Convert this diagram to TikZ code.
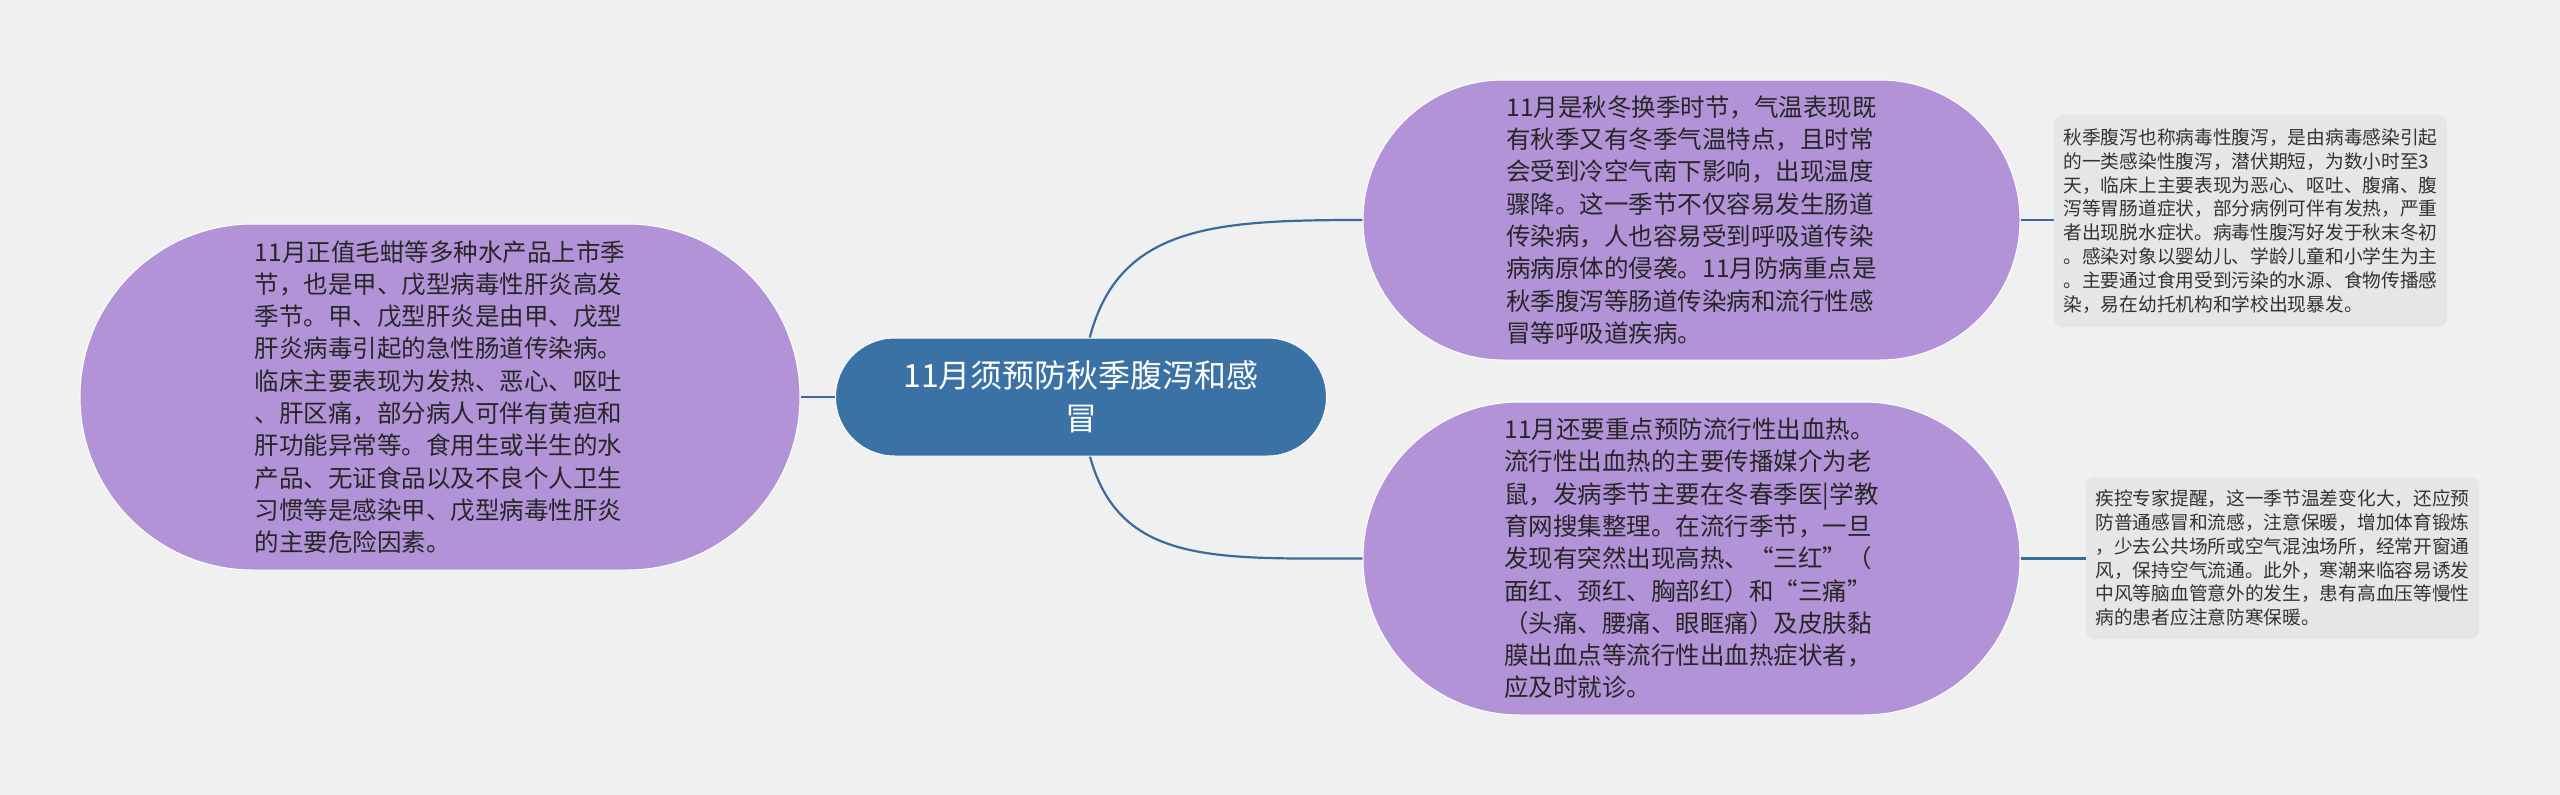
\documentclass[tikz,border=0pt]{standalone}
\usepackage{fontspec}
\setmainfont{Noto Sans CJK SC}
\usetikzlibrary{backgrounds}
\definecolor{bg}{HTML}{F0F0F0}
\definecolor{purp}{HTML}{B393D8}
\definecolor{cblue}{HTML}{3B72A6}
\definecolor{lnk}{HTML}{3A6B9C}
\definecolor{notebg}{HTML}{E6E6E6}
\definecolor{notetx}{HTML}{333333}
\definecolor{bodytx}{HTML}{262626}
\begin{document}
\begin{tikzpicture}[x=1pt,y=-1pt,
  pill/.style={draw=white, line width=1pt, fill=purp, text=bodytx, align=left, inner sep=0pt,
    font=\fontsize{24.5}{32.3}\selectfont},
  rootnode/.style={draw=white, line width=1pt, fill=cblue, text=white, align=center, inner sep=0pt,
    rounded corners=59pt, minimum width=491pt, minimum height=118pt,
    font=\fontsize{32}{43}\selectfont},
  notebox/.style={fill=notebg, text=notetx, align=left, inner sep=0pt, rounded corners=8pt,
    minimum width=393pt, font=\fontsize{18.7}{23.8}\selectfont},
  link/.style={draw=lnk, line width=2.2pt}
]
\useasboundingbox (0,0) rectangle (2560,795);

\node[rootnode] (ctr) at (1081,397) {11月须预防秋季腹泻和感\\冒};

\node[pill, rounded corners=173pt, minimum width=720pt, minimum height=346pt] (left) at (440,397)
{11月正值毛蚶等多种水产品上市季\\节，也是甲、戊型病毒性肝炎高发\\季节。甲、戊型肝炎是由甲、戊型\\肝炎病毒引起的急性肠道传染病。\\临床主要表现为发热、恶心、呕吐\\、肝区痛，部分病人可伴有黄疸和\\肝功能异常等。食用生或半生的水\\产品、无证食品以及不良个人卫生\\习惯等是感染甲、戊型病毒性肝炎\\的主要危险因素。};

\node[pill, rounded corners=140pt, minimum width=657pt, minimum height=280pt] (tr) at (1691.5,220)
{11月是秋冬换季时节，气温表现既\\有秋季又有冬季气温特点，且时常\\会受到冷空气南下影响，出现温度\\骤降。这一季节不仅容易发生肠道\\传染病，人也容易受到呼吸道传染\\病病原体的侵袭。11月防病重点是\\秋季腹泻等肠道传染病和流行性感\\冒等呼吸道疾病。};

\node[pill, rounded corners=156.5pt, minimum width=657pt, minimum height=313pt] (br) at (1691.5,558.5)
{11月还要重点预防流行性出血热。\\流行性出血热的主要传播媒介为老\\鼠，发病季节主要在冬春季医|学教\\育网搜集整理。在流行季节，一旦\\发现有突然出现高热、“三红”（\\面红、颈红、胸部红）和“三痛”\\（头痛、腰痛、眼眶痛）及皮肤黏\\膜出血点等流行性出血热症状者，\\应及时就诊。};

\node[notebox, minimum height=212pt] (n1) at (2250.5,221)
{秋季腹泻也称病毒性腹泻，是由病毒感染引起\\的一类感染性腹泻，潜伏期短，为数小时至3\\天，临床上主要表现为恶心、呕吐、腹痛、腹\\泻等胃肠道症状，部分病例可伴有发热，严重\\者出现脱水症状。病毒性腹泻好发于秋末冬初\\。感染对象以婴幼儿、学龄儿童和小学生为主\\。主要通过食用受到污染的水源、食物传播感\\染，易在幼托机构和学校出现暴发。};

\node[notebox, minimum height=162pt] (n2) at (2282.5,558)
{疾控专家提醒，这一季节温差变化大，还应预\\防普通感冒和流感，注意保暖，增加体育锻炼\\，少去公共场所或空气混浊场所，经常开窗通\\风，保持空气流通。此外，寒潮来临容易诱发\\中风等脑血管意外的发生，患有高血压等慢性\\病的患者应注意防寒保暖。};

\begin{scope}[on background layer]
  \fill[bg] (0,0) rectangle (2560,795);
  \draw[link] (ctr.center) -- (left.east);
  \draw[link] (ctr.center) .. controls +(10,-170) and +(-170,0) .. (tr.west);
  \draw[link] (ctr.center) .. controls +(10,170) and +(-170,0) .. (br.west);
  \draw[link] (tr.east) -- (n1.west |- tr.east);
  \draw[link] (br.east) -- (n2.west |- br.east);
\end{scope}
\end{tikzpicture}
\end{document}
